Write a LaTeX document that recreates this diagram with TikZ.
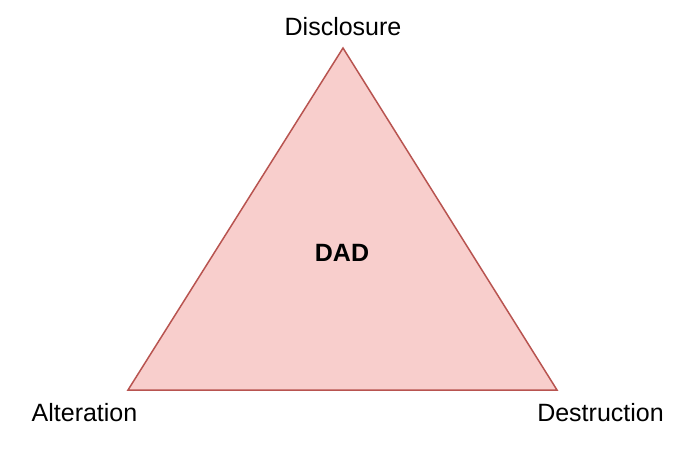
\documentclass[tikz,border=0pt]{standalone}
\usepackage{fontspec}
\setmainfont{Liberation Sans}
\definecolor{trifill}{HTML}{F8CECC}
\definecolor{tridraw}{HTML}{B85450}
\begin{document}
\begin{tikzpicture}[x=1pt,y=-1pt,
  lbl/.style={font=\fontsize{25}{30}\selectfont, inner sep=0pt, text=black},
  tri/.style={fill=trifill, draw=tridraw, line width=1.5pt, line join=miter}]
\useasboundingbox (0,0) rectangle (682,448);
\coordinate (top) at (343,48);
\coordinate (bl) at (128,390);
\coordinate (br) at (557,390);
\draw[tri] (top) -- (bl) -- (br) -- cycle;
\node[lbl, font=\fontsize{25}{30}\selectfont\bfseries] (dad) at (342,253) {DAD};
\node[lbl] (disc) at (343,27) {Disclosure};
\node[lbl] (alt) at (84.5,413) {Alteration};
\node[lbl] (dest) at (600.5,413) {Destruction};
\end{tikzpicture}
\end{document}
